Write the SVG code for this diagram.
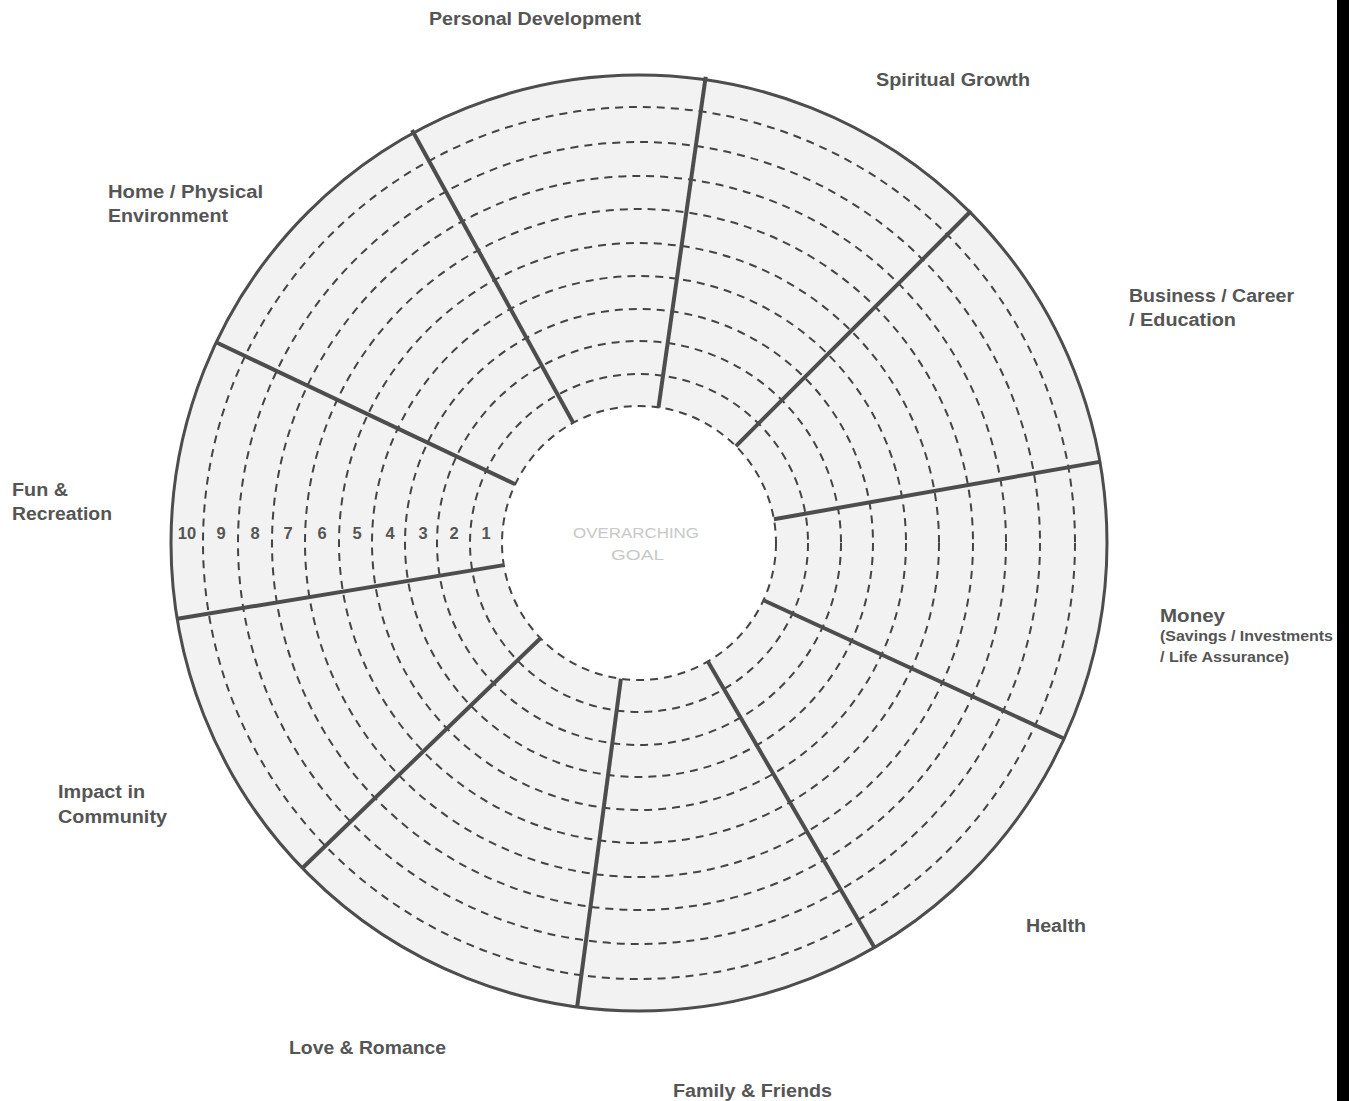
<svg xmlns="http://www.w3.org/2000/svg" width="1349" height="1101" viewBox="0 0 1349 1101">
<style>
.lbl{font-family:"Liberation Sans",Arial,sans-serif;font-weight:bold;font-size:18px;fill:#555}
.sm{font-size:14px}
.num{font-family:"Liberation Sans",Arial,sans-serif;font-weight:bold;font-size:16.5px;fill:#555;text-anchor:middle}
.goal{font-family:"Liberation Sans",Arial,sans-serif;font-size:15px;fill:#c8c8c8}
.ring{fill:none;stroke:#444;stroke-width:2;stroke-dasharray:8 6}
.spoke{stroke:#4d4d4d;stroke-width:4;stroke-linecap:butt}
</style>
<rect x="0" y="0" width="1349" height="1101" fill="#fff"/>
<rect x="1337" y="0" width="12" height="1101" fill="#000"/>
<g id="wheel">
<circle cx="639" cy="543" r="468" fill="#f2f2f2" stroke="#4d4d4d" stroke-width="3"/>
<circle class="ring" cx="639" cy="543" r="436"/>
<circle class="ring" cx="639" cy="543" r="401"/>
<circle class="ring" cx="639" cy="543" r="367"/>
<circle class="ring" cx="639" cy="543" r="334"/>
<circle class="ring" cx="639" cy="543" r="300"/>
<circle class="ring" cx="639" cy="543" r="267"/>
<circle class="ring" cx="639" cy="543" r="234"/>
<circle class="ring" cx="639" cy="543" r="202"/>
<circle class="ring" cx="639" cy="543" r="169"/>
<circle cx="639" cy="543" r="137" fill="#fff" stroke="#444" stroke-width="2" stroke-dasharray="8 6"/>
</g>
<g id="connectors">
<line class="spoke" x1="658.5" y1="407.4" x2="705.7" y2="76.8"/>
<line class="spoke" x1="735.9" y1="446.1" x2="971" y2="211"/>
<line class="spoke" x1="773.9" y1="519.2" x2="1101" y2="461.6"/>
<line class="spoke" x1="763.5" y1="600.3" x2="1065" y2="739"/>
<line class="spoke" x1="707.9" y1="661.4" x2="875" y2="948.5"/>
<line class="spoke" x1="620.9" y1="678.8" x2="577" y2="1008"/>
<line class="spoke" x1="540.5" y1="638.2" x2="302" y2="868.5"/>
<line class="spoke" x1="503.8" y1="565.1" x2="176" y2="619"/>
<line class="spoke" x1="515.2" y1="484.2" x2="215.5" y2="342"/>
<line class="spoke" x1="573.2" y1="422.8" x2="412" y2="130"/>
</g>
<g id="scale">
<text class="num" x="187" y="538.5">10</text>
<text class="num" x="221" y="538.5">9</text>
<text class="num" x="255" y="538.5">8</text>
<text class="num" x="288" y="538.5">7</text>
<text class="num" x="322" y="538.5">6</text>
<text class="num" x="357" y="538.5">5</text>
<text class="num" x="390" y="538.5">4</text>
<text class="num" x="423" y="538.5">3</text>
<text class="num" x="454" y="538.5">2</text>
<text class="num" x="486" y="538.5">1</text>
</g>
<g id="center">
<text class="goal" x="573" y="538" textLength="126" lengthAdjust="spacingAndGlyphs">OVERARCHING</text>
<text class="goal" x="611" y="560" textLength="53" lengthAdjust="spacingAndGlyphs">GOAL</text>
</g>
<g id="node-personal"><text class="lbl" x="429" y="25" textLength="212" lengthAdjust="spacingAndGlyphs">Personal Development</text></g>
<g id="node-spiritual"><text class="lbl" x="876" y="86" textLength="154" lengthAdjust="spacingAndGlyphs">Spiritual Growth</text></g>
<g id="node-business"><text class="lbl" x="1129" y="302" textLength="165" lengthAdjust="spacingAndGlyphs">Business / Career</text><text class="lbl" x="1129" y="326" textLength="107" lengthAdjust="spacingAndGlyphs">/ Education</text></g>
<g id="node-money"><text class="lbl" x="1160" y="622" textLength="65" lengthAdjust="spacingAndGlyphs">Money</text><text class="lbl sm" x="1160" y="641" textLength="173" lengthAdjust="spacingAndGlyphs">(Savings / Investments</text><text class="lbl sm" x="1160" y="662" textLength="129" lengthAdjust="spacingAndGlyphs">/ Life Assurance)</text></g>
<g id="node-health"><text class="lbl" x="1026" y="932" textLength="60" lengthAdjust="spacingAndGlyphs">Health</text></g>
<g id="node-family"><text class="lbl" x="673" y="1097" textLength="159" lengthAdjust="spacingAndGlyphs">Family &amp; Friends</text></g>
<g id="node-love"><text class="lbl" x="289" y="1054" textLength="157" lengthAdjust="spacingAndGlyphs">Love &amp; Romance</text></g>
<g id="node-impact"><text class="lbl" x="58" y="798" textLength="87" lengthAdjust="spacingAndGlyphs">Impact in</text><text class="lbl" x="58" y="823" textLength="109" lengthAdjust="spacingAndGlyphs">Community</text></g>
<g id="node-fun"><text class="lbl" x="12" y="496" textLength="56" lengthAdjust="spacingAndGlyphs">Fun &amp;</text><text class="lbl" x="12" y="520" textLength="100" lengthAdjust="spacingAndGlyphs">Recreation</text></g>
<g id="node-home"><text class="lbl" x="108" y="198" textLength="155" lengthAdjust="spacingAndGlyphs">Home / Physical</text><text class="lbl" x="108" y="222" textLength="120" lengthAdjust="spacingAndGlyphs">Environment</text></g>
</svg>
